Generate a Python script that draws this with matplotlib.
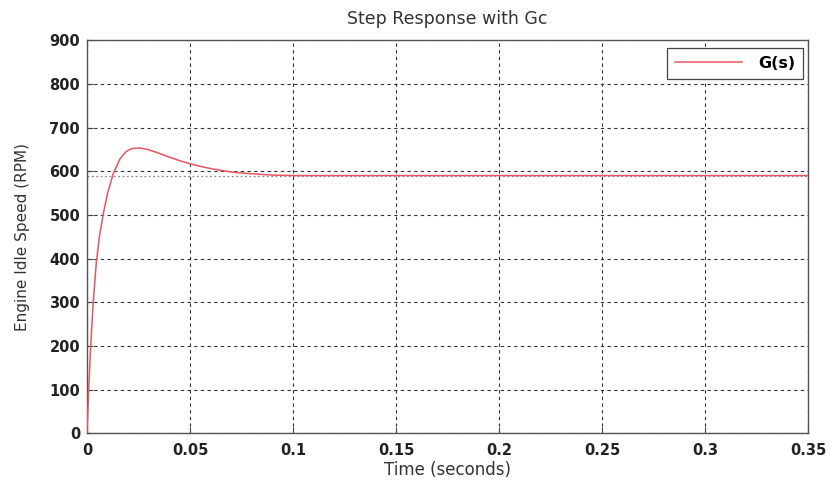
import matplotlib
matplotlib.use("Agg")
import matplotlib.pyplot as plt

# step response
t = [0, 0.0008, 0.0018, 0.003, 0.0045, 0.006, 0.008, 0.010, 0.0128, 0.016,
     0.019, 0.022, 0.026, 0.030, 0.035, 0.040, 0.045, 0.050, 0.055, 0.060,
     0.065, 0.070, 0.075, 0.080, 0.090, 0.100, 0.150, 0.200, 0.250, 0.300, 0.350]
speed = [0, 100, 200, 300, 390, 450, 505, 550, 595, 628,
         645, 652, 653, 649, 641, 632, 624, 617, 611, 606,
         602, 598, 596, 594, 591, 590, 590, 590, 590, 590, 590]
steady = 590

xticks = [0, 0.05, 0.1, 0.15, 0.2, 0.25, 0.3, 0.35]
xticklabels = ["0", "0.05", "0.1", "0.15", "0.2", "0.25", "0.3", "0.35"]
yticks = list(range(0, 901, 100))

plt.rcParams["font.family"] = ["DejaVu Sans"]

fig = plt.figure(figsize=(8.32, 4.84), dpi=100)
ax = fig.add_axes([0.1046, 0.105, 0.8666, 0.812])

ax.axhline(steady, color="#888888", linestyle=(0, (1.5, 2)), linewidth=0.9, zorder=1)
ax.plot(t, speed, color="#e85560", linewidth=1.1, label="G(s)", zorder=3)

ax.set_xlim(0, 0.35)
ax.set_ylim(0, 900)
ax.set_xticks(xticks)
ax.set_xticklabels(xticklabels)
ax.set_yticks(yticks)
for lab in ax.get_xticklabels() + ax.get_yticklabels():
    lab.set_fontweight("bold")
    lab.set_fontsize(10.5)
    lab.set_color("#222222")

ax.grid(True, color="#333333", linestyle=(0, (3, 3)), linewidth=0.8)
ax.tick_params(axis="x", direction="in", length=4, color="#444444", pad=7)
ax.tick_params(axis="y", direction="in", length=4, color="#444444", pad=5)
for s in ax.spines.values():
    s.set_color("#555555")
    s.set_linewidth(1.0)

ax.set_title("Step Response with Gc", fontsize=12.5, color="#333333", pad=12)
ax.set_xlabel("Time (seconds)", fontsize=12, color="#333333", labelpad=2)
ax.set_ylabel("Engine Idle Speed (RPM)", fontsize=11, color="#333333", labelpad=14)

leg = ax.legend(loc="upper right", prop={"weight": "bold", "size": 11.5},
                fancybox=False, framealpha=1, edgecolor="#444444",
                handlelength=4.2, handletextpad=1.0, borderpad=0.5,
                borderaxespad=0, bbox_to_anchor=(0.993, 0.98))
leg.get_frame().set_linewidth(0.9)

fig.savefig("out.png", dpi=100)
